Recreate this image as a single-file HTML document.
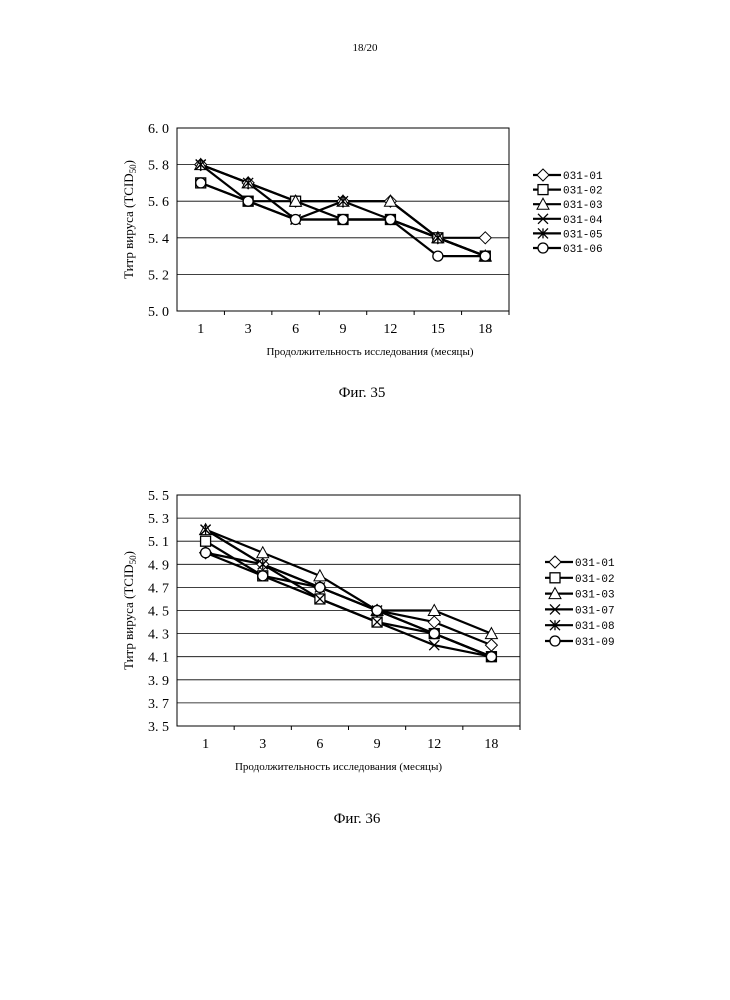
<!DOCTYPE html>
<html><head><meta charset="utf-8"><style>
body{margin:0;background:#fff;width:730px;height:1000px;overflow:hidden;font-family:"Liberation Serif",serif}
svg{position:absolute;left:0;top:0}
</style></head><body>
<svg id="s" width="730" height="1000" font-family="Liberation Serif, serif">
<text x="365" y="51" font-size="11" text-anchor="middle">18/20</text>
<text x="362" y="397" font-size="15" text-anchor="middle">Фиг. 35</text>
<text x="357" y="823" font-size="15" text-anchor="middle">Фиг. 36</text>
</svg>
<script>
const c1Cats=["1","3","6","9","12","15","18"];
const c1Names=["031-01","031-02","031-03","031-04","031-05","031-06"];
const c1S01=[5.8,5.7,5.6,5.6,5.6,5.4,5.4];
const c1S02=[5.7,5.6,5.6,5.5,5.5,5.4,5.3];
const c1S03=[5.8,5.7,5.6,5.6,5.6,5.4,5.3];
const c1S04=[5.8,5.6,5.5,5.5,5.5,5.4,5.3];
const c1S05=[5.8,5.7,5.5,5.6,5.5,5.4,5.3];
const c1S06=[5.7,5.6,5.5,5.5,5.5,5.3,5.3];
const c1Ticks=["5. 0","5. 2","5. 4","5. 6","5. 8","6. 0"];
const c2Cats=["1","3","6","9","12","18"];
const c2Names=["031-01","031-02","031-03","031-07","031-08","031-09"];
const c2S01=[5.0,4.9,4.7,4.5,4.4,4.2];
const c2S02=[5.1,4.8,4.6,4.4,4.3,4.1];
const c2S03=[5.2,5.0,4.8,4.5,4.5,4.3];
const c2S07=[5.2,4.9,4.6,4.4,4.2,4.1];
const c2S08=[5.2,4.9,4.7,4.5,4.3,4.1];
const c2S09=[5.0,4.8,4.7,4.5,4.3,4.1];
const c2Ticks=["3. 5","3. 7","3. 9","4. 1","4. 3","4. 5","4. 7","4. 9","5. 1","5. 3","5. 5"];
const NS="http://www.w3.org/2000/svg";
const svg=document.getElementById('s');
function mk(t,a,p){const e=document.createElementNS(NS,t);for(const k in a)e.setAttribute(k,a[k]);(p||svg).appendChild(e);return e;}
function marker(g,kind,x,y){
 const r=5;let e;
 if(kind==="diamond")e=mk('polygon',{points:`${x},${y-r-1} ${x+r+1},${y} ${x},${y+r+1} ${x-r-1},${y}`,fill:'#fff',stroke:'#000','stroke-width':1},g);
 else if(kind==="square")e=mk('rect',{x:x-r,y:y-r,width:2*r,height:2*r,fill:'#fff',stroke:'#000','stroke-width':1.3},g);
 else if(kind==="triangle")e=mk('polygon',{points:`${x},${y-r-1} ${x+r+1},${y+r} ${x-r-1},${y+r}`,fill:'#fff',stroke:'#000','stroke-width':1},g);
 else if(kind==="circle")e=mk('circle',{cx:x,cy:y,r:r,fill:'#fff',stroke:'#000','stroke-width':1.3},g);
 else if(kind==="x")e=mk('path',{d:`M${x-r},${y-r}L${x+r},${y+r}M${x-r},${y+r}L${x+r},${y-r}`,stroke:'#000','stroke-width':1.3},g);
 else e=mk('path',{d:`M${x-r},${y-r}L${x+r},${y+r}M${x-r},${y+r}L${x+r},${y-r}M${x},${y-r}L${x},${y+r}`,stroke:'#000','stroke-width':1.3},g);
 
 
}
function chart(o){
 const g=mk('g',{});
 
 
 const {L,R,T,B,min,max,cats,series,names,kinds,ticks}=o;
 const y=v=>B-(v-min)/(max-min)*(B-T);
 const bw=(R-L)/cats.length;const x=i=>L+bw*(i+0.5);
 for(let i=0;i<ticks.length;i++){const v=min+i*(max-min)/(ticks.length-1);
  if(i>0&&i<ticks.length-1){const gl=mk('line',{x1:L,x2:R,y1:y(v),y2:y(v),stroke:'#000','stroke-width':0.8},g);}
  const t=mk('text',{x:L-8,y:y(v)+5,'font-size':14,'text-anchor':'end'},g);t.textContent=ticks[i];
  }
 const fr=mk('rect',{x:L,y:T,width:R-L,height:B-T,fill:'none',stroke:'#000','stroke-width':1},g);
 
 cats.forEach((c,i)=>{mk('line',{x1:L+bw*(i+1),x2:L+bw*(i+1),y1:B,y2:B+4,stroke:'#000'},g);
  const t=mk('text',{x:x(i),y:B+22,'font-size':14,'text-anchor':'middle'},g);t.textContent=c;
  });
 series.forEach((s,k)=>{const p=mk('polyline',{points:s.map((v,i)=>x(i)+','+y(v)).join(' '),fill:'none',stroke:'#000','stroke-width':2.2},g);
  });
 series.forEach((s,k)=>s.forEach((v,i)=>marker(g,kinds[k],x(i),y(v))));
 names.forEach((n,k)=>{const ly=o.legY+k*o.legDy;
  const l=mk('line',{x1:o.legX,x2:o.legX+28,y1:ly,y2:ly,stroke:'#000','stroke-width':2.2},g);
  
  marker(g,kinds[k],o.legX+10,ly);
  const t=mk('text',{x:o.legX+30,y:ly+4,'font-size':11,'font-family':'Liberation Mono, monospace'},g);t.textContent=n;
  });
 const xt=mk('text',{x:(L+R)/2+o.xtOff,y:B+44,'font-size':11,'text-anchor':'middle'},g);xt.textContent="Продолжительность исследования (месяцы)";
 
 const yt=mk('text',{x:0,y:0,'font-size':13,'text-anchor':'middle',transform:`translate(${o.ytX},${(T+B)/2}) rotate(-90)`},g);
 yt.innerHTML='Титр вируса (TCID<tspan font-size="9" dy="3">50</tspan><tspan dy="-3">)</tspan>';
 
}
chart({name:'chart-fig35',L:177,R:509,T:128,B:311,min:5.0,max:6.0,cats:c1Cats,
 series:[c1S01,c1S02,c1S03,c1S04,c1S05,c1S06],names:c1Names,
 kinds:["diamond","square","triangle","x","star","circle"],ticks:c1Ticks,legX:533,legY:175,legDy:14.6,xtOff:27,ytX:133});
chart({name:'chart-fig36',L:177,R:520,T:495,B:726,min:3.5,max:5.5,cats:c2Cats,
 series:[c2S01,c2S02,c2S03,c2S07,c2S08,c2S09],names:c2Names,
 kinds:["diamond","square","triangle","x","star","circle"],ticks:c2Ticks,legX:545,legY:562,legDy:15.8,xtOff:-10,ytX:133});
</script>
</body></html>
